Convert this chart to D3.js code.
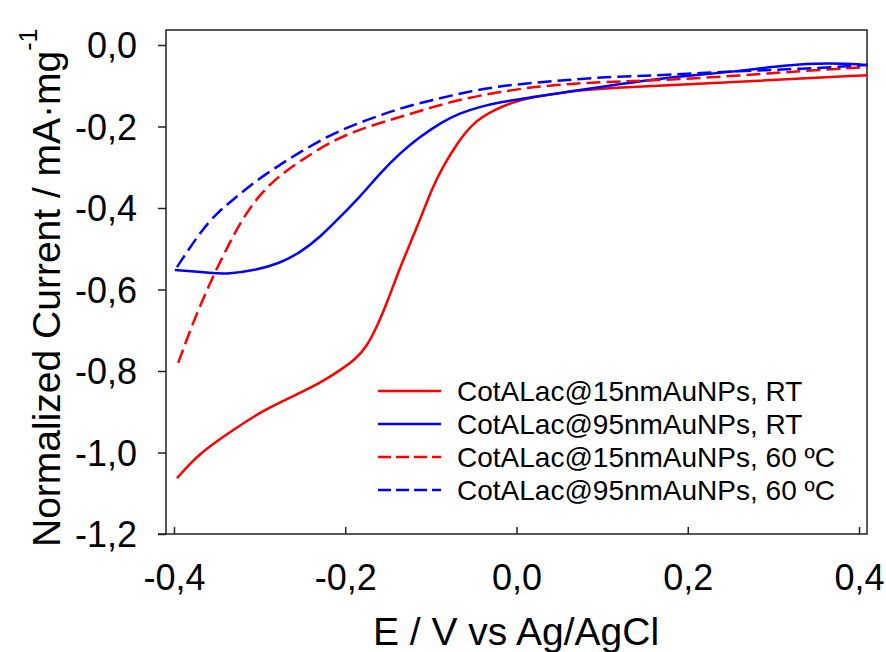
<!DOCTYPE html>
<meta charset="utf-8">
<script src="https://d3js.org/d3.v7.min.js"></script>
<style>
  body { margin: 0; background: #fff; }
  svg text { font-family: "Liberation Sans", Arial, sans-serif; fill: #000; }
</style>
<div id="chart"></div>
<script>

  // potentials (V vs Ag/AgCl) and normalized currents
  const red_rt_E = [-0.3965, -0.370, -0.331, -0.296, -0.253, -0.229, -0.206, -0.189, -0.175, -0.162, -0.150, -0.136, -0.116, -0.098, -0.086, -0.069, -0.051, -0.027, -0.004, 0.019, 0.059, 0.098, 0.254, 0.410]
  const red_rt_I = [-1.063, -1.001, -0.945, -0.896, -0.854, -0.829, -0.798, -0.773, -0.741, -0.687, -0.626, -0.545, -0.447, -0.348, -0.299, -0.240, -0.191, -0.160, -0.140, -0.128, -0.115, -0.106, -0.091, -0.074]

  const blue_rt_E = [-0.399, -0.354, -0.338, -0.303, -0.276, -0.253, -0.229, -0.206, -0.183, -0.159, -0.136, -0.113, -0.089, -0.066, -0.043, -0.019, 0.019, 0.059, 0.098, 0.176, 0.254, 0.314, 0.364, 0.410]
  const blue_rt_I = [-0.552, -0.560, -0.562, -0.552, -0.535, -0.510, -0.471, -0.422, -0.373, -0.314, -0.265, -0.226, -0.191, -0.167, -0.152, -0.140, -0.128, -0.115, -0.103, -0.079, -0.066, -0.049, -0.044, -0.049]

  const red_60_E = [-0.395, -0.378, -0.358, -0.344, -0.331, -0.317, -0.300, -0.280, -0.253, -0.214, -0.175, -0.136, -0.098, -0.058, -0.019, 0.019, 0.059, 0.098, 0.176, 0.254, 0.332, 0.410]
  const red_60_I = [-0.780, -0.682, -0.584, -0.523, -0.469, -0.417, -0.368, -0.326, -0.285, -0.233, -0.201, -0.177, -0.152, -0.130, -0.115, -0.103, -0.096, -0.091, -0.086, -0.076, -0.064, -0.054]

  const blue_60_E = [-0.3965, -0.370, -0.350, -0.331, -0.308, -0.280, -0.253, -0.214, -0.175, -0.136, -0.098, -0.058, -0.019, 0.019, 0.059, 0.098, 0.176, 0.254, 0.332, 0.410]
  const blue_60_I = [-0.545, -0.461, -0.412, -0.380, -0.339, -0.299, -0.263, -0.216, -0.184, -0.155, -0.135, -0.115, -0.101, -0.093, -0.086, -0.079, -0.074, -0.064, -0.059, -0.049]

  const seriesNames = ["CotALac@15nmAuNPs, RT", "CotALac@95nmAuNPs, RT", "CotALac@15nmAuNPs, 60 ºC", "CotALac@95nmAuNPs, 60 ºC"]
  const xTicks = [-0.4, -0.2, 0.0, 0.2, 0.4]
  const yTicks = [0.0, -0.2, -0.4, -0.6, -0.8, -1.0, -1.2]

  const series = [
    { name: seriesNames[0], E: red_rt_E, I: red_rt_I, color: "#ff0000", dash: null },
    { name: seriesNames[1], E: blue_rt_E, I: blue_rt_I, color: "#0000ff", dash: null },
    { name: seriesNames[2], E: red_60_E, I: red_60_I, color: "#ff0000", dash: "14,6" },
    { name: seriesNames[3], E: blue_60_E, I: blue_60_I, color: "#0000ff", dash: "14,6" }
  ]

  const width = 886
  const height = 652
  const plotLeft = 166, plotRight = 867, plotTop = 30, plotBottom = 534

  const svg = d3.select("#chart")
    .append("svg")
      .attr("width", width)
      .attr("height", height)

  const x = d3.scaleLinear().domain([-0.4093, 0.4093]).range([plotLeft, plotRight])
  const y = d3.scaleLinear().domain([-1.2, 0.0368]).range([plotBottom, plotTop])

  // comma as decimal mark, plain hyphen for minus
  const locale = d3.formatLocale({ decimal: ",", thousands: ".", grouping: [3], currency: ["", ""], minus: "-" })
  const fmt = locale.format(".1f")

  // y axis, ticks pointing out
  const yAxis = svg.append("g")
    .attr("transform", `translate(${plotLeft},0)`)
    .call(d3.axisLeft(y).tickValues(yTicks).tickFormat(fmt).tickSizeInner(8).tickSizeOuter(0).tickPadding(21))
  yAxis.select(".domain").remove()
  yAxis.selectAll("line").attr("stroke", "#222").attr("stroke-width", 1.5)
  yAxis.selectAll("text").style("font-size", "36px").attr("dy", "0.36em")

  // x axis, ticks pointing in
  const xAxis = svg.append("g")
    .attr("transform", `translate(0,${plotBottom})`)
    .call(d3.axisBottom(x).tickValues(xTicks).tickFormat(fmt).tickSizeInner(-7).tickSizeOuter(0).tickPadding(30))
  xAxis.select(".domain").remove()
  xAxis.selectAll("line").attr("stroke", "#222").attr("stroke-width", 1.5)
  xAxis.selectAll("text").style("font-size", "36px")

  // frame
  svg.append("rect")
    .attr("x", plotLeft).attr("y", plotTop)
    .attr("width", plotRight - plotLeft).attr("height", plotBottom - plotTop)
    .attr("fill", "none").attr("stroke", "#222").attr("stroke-width", 1.5)
  svg.append("line")
    .attr("x1", plotLeft - 8).attr("x2", plotLeft)
    .attr("y1", plotBottom).attr("y2", plotBottom)
    .attr("stroke", "#222").attr("stroke-width", 1.5)

  const line = d3.line()
    .x(d => x(d[0]))
    .y(d => y(d[1]))
    .curve(d3.curveBasis)

  svg.append("g")
    .selectAll("path")
    .data(series)
    .join("path")
      .attr("d", s => line(d3.zip(s.E, s.I)))
      .attr("fill", "none")
      .attr("stroke", s => s.color)
      .attr("stroke-width", 2.5)
      .attr("stroke-dasharray", s => s.dash)

  // legend
  const legend = svg.append("g")
    .selectAll("g")
    .data(series)
    .join("g")
      .attr("transform", (s, i) => `translate(378,${391 + i * 33})`)
  legend.append("line")
    .attr("x1", 0).attr("x2", 63)
    .attr("stroke", s => s.color)
    .attr("stroke-width", 2.5)
    .attr("stroke-dasharray", s => s.dash ? "13,5" : null)
  legend.append("text")
    .attr("x", 79)
    .attr("y", 10)
    .style("font-size", "28px")
    .text(s => s.name)

  // axis titles
  svg.append("text")
    .attr("x", 516)
    .attr("y", 645)
    .attr("text-anchor", "middle")
    .style("font-size", "39px")
    .text("E / V vs Ag/AgCl")

  const yTitle = svg.append("text")
    .attr("transform", "translate(60,547) rotate(-90)")
    .style("font-size", "39px")
  yTitle.append("tspan").text("Normalized Current / mA·mg")
  yTitle.append("tspan").attr("dy", -23).style("font-size", "25px").text("-1")

</script>
